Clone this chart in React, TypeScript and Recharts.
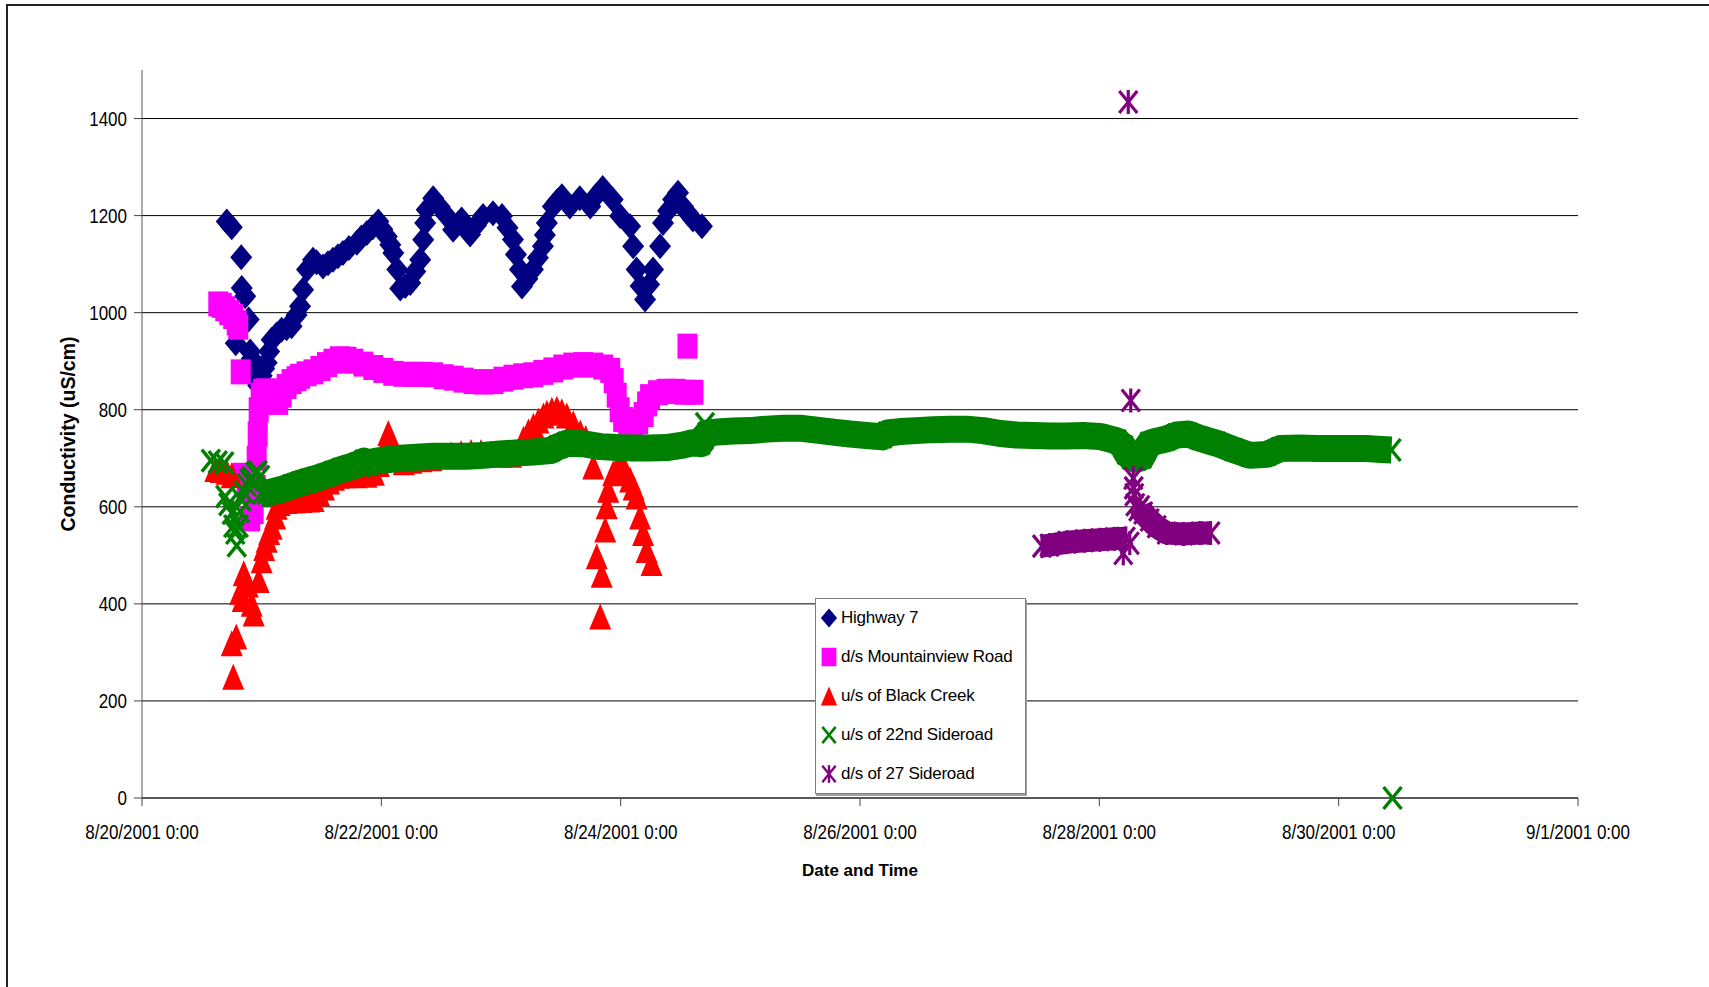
import { ScatterChart, Scatter, XAxis, YAxis, CartesianGrid } from "recharts"

// x = hours after 8/20/2001 0:00, y = conductivity (uS/cm)
const highway7: [number, number][] = [
  [17.0, 1188], [18.0, 1176], [18.8, 937], [19.9, 1114], [20.0, 1051], [20.7, 1034], [21.4, 986],
  [21.7, 920], [22.0, 905], [22.3, 890], [22.7, 862], [23.3, 850], [23.7, 858], [24.0, 870],
  [24.5, 885], [25.0, 897], [25.5, 920], [26.0, 944], [27.0, 955], [28.0, 965], [29.0, 968],
  [30.0, 972], [31.0, 995], [31.7, 1013], [32.3, 1047], [33.1, 1089], [34.3, 1109], [35.0, 1104],
  [36.3, 1095], [37.3, 1102], [38.3, 1109], [39.3, 1116], [40.3, 1123], [41.5, 1133], [43.1, 1144],
  [44.0, 1155], [45.1, 1164], [46.3, 1176], [47.4, 1188], [48.2, 1172], [49.1, 1157], [49.8, 1140],
  [50.4, 1123], [51.2, 1089], [51.8, 1050], [52.8, 1055], [53.8, 1061], [54.8, 1085], [55.8, 1109],
  [56.4, 1150], [56.8, 1185], [57.1, 1212], [58.4, 1236], [59.7, 1218], [61.1, 1199], [62.4, 1171],
  [63.3, 1182], [64.1, 1192], [65.0, 1176], [65.8, 1161], [67.0, 1180], [68.4, 1199], [70.4, 1205],
  [72.2, 1199], [73.3, 1175], [74.4, 1151], [75.0, 1120], [75.8, 1089], [76.2, 1054], [77.3, 1070],
  [78.4, 1089], [79.4, 1113], [80.4, 1137], [80.8, 1160], [81.2, 1185], [82.4, 1219], [83.3, 1230],
  [84.2, 1240], [85.8, 1219], [87.8, 1236], [89.9, 1219], [91.0, 1240], [92.4, 1257], [94.4, 1233],
  [95.9, 1199], [97.9, 1178], [98.5, 1137], [99.2, 1089], [100.0, 1055], [100.9, 1027],
  [101.7, 1058], [102.5, 1089], [103.9, 1137], [104.5, 1185], [105.5, 1210], [106.5, 1233],
  [107.5, 1247], [108.5, 1219], [109.5, 1205], [110.5, 1192], [112.3, 1178],
]

const mountainview: [number, number][] = [
  [15.3, 1018], [16.0, 1015], [16.7, 1008], [17.5, 1000], [18.3, 992], [19.0, 979], [19.3, 970],
  [19.8, 878], [20.1, 665], [21.0, 640], [21.7, 575], [22.4, 590], [22.8, 640], [23.0, 700],
  [23.2, 750], [23.4, 800], [23.8, 830], [24.3, 838], [25.0, 839], [25.8, 836], [26.5, 822],
  [27.3, 815], [28.0, 830], [29.0, 848], [30.0, 858], [31.0, 864], [31.7, 869], [33.0, 874],
  [34.4, 878], [35.8, 885], [37.1, 893], [38.4, 900], [39.7, 905], [41.0, 904], [42.4, 900],
  [44.4, 894], [46.4, 887], [48.4, 881], [50.4, 875], [52.4, 873], [54.4, 873], [56.4, 873],
  [58.4, 872], [60.5, 868], [62.5, 865], [64.5, 861], [66.5, 858], [68.5, 857], [70.5, 858],
  [72.5, 863], [74.5, 867], [76.5, 870], [78.5, 872], [80.5, 877], [82.5, 882], [84.5, 888],
  [86.5, 892], [88.5, 893], [90.5, 892], [92.5, 888], [93.9, 881], [94.6, 860], [95.2, 830],
  [95.8, 800], [96.5, 780], [97.5, 772], [98.5, 772], [99.5, 775], [100.6, 790], [101.3, 812],
  [101.9, 827], [103.5, 835], [105.2, 838], [107.0, 838], [108.8, 836], [110.6, 836], [109.4, 931],
]

const blackCreek: [number, number][] = [
  [14.7, 678], [15.8, 676], [17.0, 672], [18.0, 665],
  [18.0, 319], [18.3, 250], [18.9, 333], [19.7, 425], [20.2, 410], [20.4, 463], [21.2, 440],
  [22.0, 400], [22.4, 380], [23.4, 449], [24.0, 490], [24.5, 515], [25.0, 532], [25.5, 548],
  [26.0, 559], [26.7, 580], [27.0, 600], [27.6, 608], [29.0, 612], [30.5, 613], [32.0, 614],
  [33.5, 615], [34.4, 616], [35.5, 628], [36.5, 640], [37.5, 652], [38.5, 660], [39.5, 664],
  [41.0, 665], [43.0, 665], [45.0, 666], [46.5, 670], [47.5, 688], [48.5, 718], [49.4, 752],
  [50.3, 728], [51.3, 702], [52.5, 692], [54.0, 695], [56.0, 698], [58.0, 700], [60.0, 704],
  [62.0, 708], [64.0, 711], [66.0, 713], [68.0, 713], [70.0, 710], [72.0, 707], [74.0, 707],
  [75.2, 712], [76.5, 740], [77.5, 755], [78.5, 767], [79.5, 778], [80.5, 788], [81.2, 794],
  [82.2, 800], [83.2, 802], [84.2, 797], [85.2, 788], [86.5, 772], [87.9, 753], [89.0, 742],
  [89.8, 730], [90.5, 683], [91.2, 498], [91.9, 374], [92.2, 460], [92.9, 553], [93.2, 601],
  [93.5, 635], [94.5, 669], [95.3, 680], [96.2, 683], [97.0, 672], [97.9, 656], [98.6, 640],
  [99.2, 621], [99.9, 580], [100.5, 546], [101.2, 511], [102.2, 484],
]

// u/s of 22nd Sideroad: scattered start readings, then the continuous record
const sideroad22Start: [number, number][] = [
  [13.8, 695], [15.2, 692], [16.5, 690], [16.7, 621], [17.3, 605], [18.0, 587], [18.3, 560],
  [18.7, 546], [19.0, 520], [19.4, 560], [19.7, 590], [20.0, 614], [20.5, 630], [21.0, 645],
  [21.5, 655], [22.0, 660], [22.7, 669], [23.2, 672], [23.7, 662],
]
const sideroad22: [number, number][] = [
  [24.0, 628], [25.0, 628], [26.5, 632], [28.4, 637], [30.0, 643], [31.7, 649], [33.4, 654],
  [35.1, 659], [36.8, 665], [38.4, 671], [40.0, 677], [41.7, 682], [43.4, 688], [44.5, 694],
  [45.5, 690], [47.0, 694], [48.4, 696], [50.0, 698], [51.8, 700], [55.0, 702], [58.4, 704],
  [61.7, 704], [65.1, 704], [68.4, 706], [71.8, 709], [75.0, 711], [78.5, 713], [81.9, 716],
  [83.5, 724], [85.2, 731], [88.5, 730], [91.9, 724], [95.2, 722], [98.5, 721], [101.9, 721],
  [105.2, 722], [108.5, 727], [110.5, 732], [112.0, 730], [112.6, 740], [113.4, 752],
  [115.3, 754], [118.6, 756], [121.9, 757], [125.3, 760], [128.6, 762], [131.9, 762], [135.3, 758],
  [138.6, 754], [142.0, 750], [145.3, 747], [148.5, 744], [149.5, 752], [152.0, 755], [155.3, 757],
  [158.7, 759], [162.0, 760], [165.4, 760], [168.7, 757], [172.1, 751], [175.4, 748], [178.8, 747],
  [182.1, 746], [185.5, 746], [188.8, 747], [192.1, 745], [194.0, 740], [195.5, 736], [196.8, 724],
  [197.5, 710], [198.5, 700], [199.5, 698], [200.5, 702], [201.3, 718], [202.1, 731], [203.8, 736],
  [205.5, 740], [207.5, 748], [209.8, 750], [212.2, 741], [215.5, 731], [218.9, 718], [222.2, 706],
  [225.6, 708], [228.3, 720], [232.2, 721], [235.6, 720], [238.9, 720], [242.2, 720], [245.6, 720],
  [248.5, 718], [250.6, 717],
]
const sideroad22Odd: [number, number][] = [[112.9, 771], [250.8, 0]]

const sideroad27Before: [number, number][] = [
  [180.5, 519], [182.0, 521], [185.5, 527], [189.0, 530], [192.1, 532], [195.0, 534], [197.3, 535],
]
const sideroad27Odd: [number, number][] = [
  [197.8, 1434], [198.3, 819], [196.8, 504], [198.1, 525], [198.8, 659], [198.9, 639],
  [199.0, 625], [199.2, 604], [199.8, 594],
]
const sideroad27After: [number, number][] = [
  [200.2, 600], [200.8, 587], [202.1, 573], [203.5, 559], [205.5, 546], [208.9, 544],
  [212.2, 546], [214.3, 546],
]

const xTicks = [0, 48, 96, 144, 192, 240, 288]
const xTickLabels = [
  "8/20/2001 0:00", "8/22/2001 0:00", "8/24/2001 0:00", "8/26/2001 0:00",
  "8/28/2001 0:00", "8/30/2001 0:00", "9/1/2001 0:00",
]
const yTicks = [0, 200, 400, 600, 800, 1000, 1200, 1400]

const seriesNames = [
  "Highway 7", "d/s Mountainview Road", "u/s of Black Creek",
  "u/s of 22nd Sideroad", "d/s of 27 Sideroad",
]

const NAVY = "#000080"
const MAGENTA = "#ff00ff"
const RED = "#ff0000"
const GREEN = "#008000"
const PURPLE = "#800080"
const FONT = "'Liberation Sans', Arial, sans-serif"

const toPts = (a: [number, number][]) => a.map(([h, v]) => ({ h, v }))

function Diamond({ cx, cy, s = 1, fill = NAVY }: any) {
  return (
    <polygon
      points={`${cx},${cy - 13 * s} ${cx + 11 * s},${cy} ${cx},${cy + 13 * s} ${cx - 11 * s},${cy}`}
      fill={fill}
    />
  )
}

function Square({ cx, cy, s = 1, fill = MAGENTA }: any) {
  return <rect x={cx - 10 * s} y={cy - 12.5 * s} width={20 * s} height={25 * s} fill={fill} />
}

function Triangle({ cx, cy, s = 1, fill = RED }: any) {
  return (
    <polygon
      points={`${cx},${cy - 13 * s} ${cx + 11 * s},${cy + 13 * s} ${cx - 11 * s},${cy + 13 * s}`}
      fill={fill}
    />
  )
}

function Cross({ cx, cy, s = 1, stroke = GREEN }: any) {
  return (
    <g stroke={stroke} strokeWidth={3.5 * s} strokeLinecap="butt">
      <line x1={cx - 9 * s} y1={cy - 11 * s} x2={cx + 9 * s} y2={cy + 11 * s} />
      <line x1={cx + 9 * s} y1={cy - 11 * s} x2={cx - 9 * s} y2={cy + 11 * s} />
    </g>
  )
}

function Star({ cx, cy, s = 1, stroke = PURPLE }: any) {
  return (
    <g stroke={stroke} strokeWidth={3.2 * s}>
      <line x1={cx - 9 * s} y1={cy - 11 * s} x2={cx + 9 * s} y2={cy + 11 * s} />
      <line x1={cx + 9 * s} y1={cy - 11 * s} x2={cx - 9 * s} y2={cy + 11 * s} />
      <line x1={cx} y1={cy - 12 * s} x2={cx} y2={cy + 12 * s} />
    </g>
  )
}

const legendMarkers = [Diamond, Square, Triangle, Cross, Star]

function XTick({ x, y, index }: any) {
  return (
    <g transform={`translate(${x},${y + 25.5}) scale(1,1.17)`}>
      <text x={0} y={0} dy="0.36em" textAnchor="middle" fontSize={17} fontFamily={FONT} fill="#000">
        {xTickLabels[index]}
      </text>
    </g>
  )
}

function YTick({ x, y, payload }: any) {
  return (
    <g transform={`translate(${x},${y}) scale(1,1.17)`}>
      <text x={0} y={0} dy="0.36em" textAnchor="end" fontSize={17} fontFamily={FONT} fill="#000">
        {payload.value}
      </text>
    </g>
  )
}

function ChartLegend() {
  return (
    <div
      style={{
        position: "absolute",
        left: 815,
        top: 598,
        width: 211,
        height: 196,
        boxSizing: "border-box",
        border: "1px solid #808080",
        boxShadow: "1px 2px 0 #a0a0a0",
        background: "#fff",
        fontFamily: FONT,
        fontSize: 17,
        letterSpacing: -0.25,
        color: "#000",
      }}
    >
      {seriesNames.map((name, i) => {
        const Marker = legendMarkers[i]
        return (
          <div key={name} style={{ height: 38.8, display: "flex", alignItems: "center" }}>
            <svg width={24} height={24} style={{ marginLeft: 1, flex: "none" }}>
              <Marker cx={12} cy={12} s={0.74} />
            </svg>
            <span>{name}</span>
          </div>
        )
      })}
    </div>
  )
}

export default function App() {
  return (
    <div
      style={{
        position: "fixed",
        left: 0,
        top: 0,
        width: 1709,
        height: 987,
        overflow: "hidden",
        background: "#fff",
      }}
    >
      <div
        style={{
          position: "absolute",
          left: 6,
          top: 4,
          width: 1800,
          height: 1100,
          border: "2px solid #222",
        }}
      />
      <div style={{ position: "absolute", left: 0, top: 0 }}>
        <ScatterChart width={1709} height={987} margin={{ top: 70, right: 131, bottom: 149, left: 0 }}>
          <CartesianGrid vertical={false} horizontalValues={yTicks} stroke="#000" strokeWidth={1} />
          <XAxis
            type="number"
            dataKey="h"
            domain={[0, 288]}
            ticks={xTicks}
            interval={0}
            height={40}
            tickSize={8}
            tickMargin={0}
            tickLine={{ stroke: "#444" }}
            axisLine={{ stroke: "#333" }}
            tick={<XTick />}
            label={{
              content: () => (
                <text x={860} y={870} dy="0.36em" textAnchor="middle" fontSize={17} fontWeight="bold" fontFamily={FONT} fill="#000">
                  Date and Time
                </text>
              ),
            }}
          />
          <YAxis
            type="number"
            dataKey="v"
            domain={[0, 1500]}
            ticks={yTicks}
            interval={0}
            width={142}
            tickSize={8}
            tickMargin={7}
            tickLine={{ stroke: "#444" }}
            axisLine={{ stroke: "#555" }}
            tick={<YTick />}
            label={{
              content: () => (
                <text
                  transform="translate(68,434) rotate(-90)"
                  x={0}
                  y={0}
                  dy="0.36em"
                  textAnchor="middle"
                  fontSize={19.5}
                  fontWeight="bold"
                  fontFamily={FONT}
                  fill="#000"
                >
                  Conductivity (uS/cm)
                </text>
              ),
            }}
          />
          <Scatter name={seriesNames[0]} data={toPts(highway7)} shape={(p: any) => <Diamond cx={p.cx} cy={p.cy} />} isAnimationActive={false} />
          <Scatter name={seriesNames[1]} data={toPts(mountainview)} shape={(p: any) => <Square cx={p.cx} cy={p.cy} />} isAnimationActive={false} />
          <Scatter name={seriesNames[2]} data={toPts(blackCreek)} shape={(p: any) => <Triangle cx={p.cx} cy={p.cy} />} isAnimationActive={false} />
          <Scatter name={seriesNames[3]} data={toPts(sideroad22Start)} shape={(p: any) => <Cross cx={p.cx} cy={p.cy} />} isAnimationActive={false} />
          <Scatter
            name={seriesNames[3]}
            data={toPts(sideroad22)}
            fill={GREEN}
            line={{ stroke: GREEN, strokeWidth: 27, strokeLinejoin: "round" }}
            lineJointType="linear"
            shape={(p: any) => <Cross cx={p.cx} cy={p.cy} />}
            isAnimationActive={false}
          />
          <Scatter name={seriesNames[3]} data={toPts(sideroad22Odd)} shape={(p: any) => <Cross cx={p.cx} cy={p.cy} />} isAnimationActive={false} />
          <Scatter
            name={seriesNames[4]}
            data={toPts(sideroad27Before)}
            fill={PURPLE}
            line={{ stroke: PURPLE, strokeWidth: 23, strokeLinejoin: "round" }}
            lineJointType="linear"
            shape={(p: any) => <Star cx={p.cx} cy={p.cy} />}
            isAnimationActive={false}
          />
          <Scatter name={seriesNames[4]} data={toPts(sideroad27Odd)} shape={(p: any) => <Star cx={p.cx} cy={p.cy} />} isAnimationActive={false} />
          <Scatter
            name={seriesNames[4]}
            data={toPts(sideroad27After)}
            fill={PURPLE}
            line={{ stroke: PURPLE, strokeWidth: 23, strokeLinejoin: "round" }}
            lineJointType="linear"
            shape={(p: any) => <Star cx={p.cx} cy={p.cy} />}
            isAnimationActive={false}
          />
        </ScatterChart>
      </div>
      <ChartLegend />
    </div>
  )
}
